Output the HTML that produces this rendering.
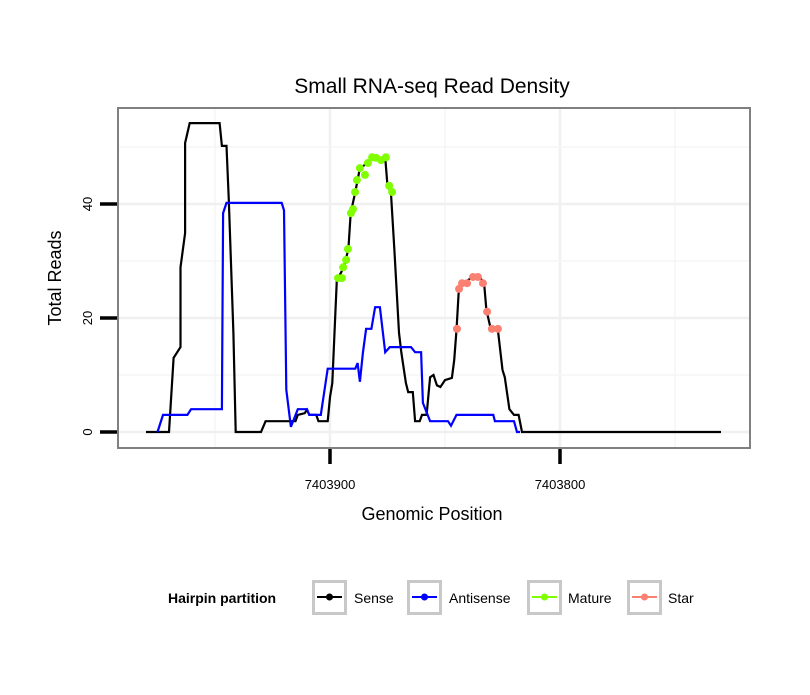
<!DOCTYPE html>
<html><head><meta charset="utf-8"><style>
body{margin:0;background:#fff}
svg text{font-family:"Liberation Sans",sans-serif}
</style></head><body>
<svg id="chart" width="810" height="690" xmlns="http://www.w3.org/2000/svg">
<rect width="810" height="690" fill="#fff"/>
<text x="432" y="93" font-size="21" text-anchor="middle">Small RNA-seq Read Density</text>
<g id="grid"></g>
<g id="series"></g>
<rect x="118" y="108" width="632" height="340" fill="none" stroke="#808080" stroke-width="2"/>
<g id="axes"></g>
<text x="432" y="520" font-size="18" text-anchor="middle">Genomic Position</text>
<text transform="translate(61,278) rotate(-90)" font-size="18" text-anchor="middle">Total Reads</text>
<g id="legend">
<text x="168" y="603" font-size="14" font-weight="bold">Hairpin partition</text>
</g>
</svg>
<script>
const xTicks=[7403900,7403800];
const xTickLabels=["7403900","7403800"];
const yTicks=[0,20,40];
const yTickLabels=["0","20","40"];
const sensePos=[7403980,7403970,7403968,7403965,7403965,7403963,7403963,7403961,7403948,7403947,7403945,7403944,7403942,7403941,7403930,7403928,7403915,7403914,7403911,7403910,7403909,7403906,7403905,7403901,7403900,7403899,7403897,7403896.5,7403894,7403892,7403891,7403889,7403887,7403883.5,7403882,7403878,7403876,7403875,7403873.5,7403872,7403870,7403869,7403867,7403866,7403864,7403863,7403861,7403860,7403858,7403856.5,7403855,7403853.5,7403852,7403850,7403847,7403846,7403845,7403844,7403842,7403838,7403835,7403833,7403832,7403830,7403827,7403825,7403824,7403822,7403820,7403818,7403816.5,7403730];
const senseVals=[0,0,13,14.9,28.9,34.9,50.7,54.2,54.2,50.2,50.2,40.7,17.4,0,0,1.9,1.9,3,3.3,3.9,3,3,1.9,1.9,6.1,8.6,27,27,28.9,32.1,38.4,42.1,46.3,47.2,48.2,47.7,48.2,43.2,42.1,31.9,17.4,14,8.6,7,7,1.9,1.9,3,3,9.6,10,8.2,7.9,9.1,9.5,12.6,17.9,24.9,26.1,27.2,27.2,26.1,21.4,17.9,17.9,10.9,9.6,4,3,3,0,0];
const antiPos=[7403975,7403972.6,7403962,7403960.4,7403947,7403946.5,7403945,7403921,7403920,7403919,7403917,7403914,7403910,7403909,7403904,7403901,7403889,7403888,7403887,7403885.7,7403884.3,7403882,7403880.4,7403878.3,7403876,7403874,7403864.8,7403863,7403860.4,7403859.6,7403856.5,7403848.7,7403847.4,7403845,7403829,7403828.3,7403820,7403818.7,7403817.4];
const antiVals=[0,3,3,4,4,38.4,40.2,40.2,38.9,7.4,0.9,4,4,3,3,11.1,11.1,12.1,8.8,13.9,18.1,18.1,21.9,21.9,14,14.9,14.9,14,14,5.1,1.9,1.9,1.1,3,3,1.9,1.9,0,0];
const maturePos=[7403896.5,7403894.8,7403894.3,7403893,7403892.2,7403890.9,7403890,7403889.1,7403888.3,7403887,7403884.8,7403883.5,7403881.7,7403880,7403877.8,7403875.7,7403874.3,7403873];
const matureVals=[27,27,28.9,30.2,32.1,38.4,39.1,42.1,44.2,46.3,45.1,47.2,48.2,48.1,47.7,48.2,43.2,42.1];
const starPos=[7403844.8,7403843.9,7403842.6,7403840.4,7403837.8,7403835.7,7403833.5,7403831.7,7403829.6,7403827];
const starVals=[18.1,25.1,26.1,26.1,27.2,27.2,26.1,21.1,18.1,18.1];
const legendLabels=["Sense","Antisense","Mature","Star"];
const legendColors=["#000000","#0000ff","#7fff00","#fa8072"];

const NS="http://www.w3.org/2000/svg";
function X(g){return 330+(7403900-g)*2.3;}
function Y(v){return 432-v*5.7;}
function mk(tag,attrs,parent){const e=document.createElementNS(NS,tag);for(const k in attrs)e.setAttribute(k,attrs[k]);parent.appendChild(e);return e;}
const grid=document.getElementById('grid'),ser=document.getElementById('series'),axes=document.getElementById('axes'),leg=document.getElementById('legend');
[7403950,7403850,7403750].forEach(g=>{const l=mk('line',{x1:X(g),x2:X(g),y1:109,y2:447,stroke:'#f5f5f5','stroke-width':1.5},grid);

});
xTicks.forEach(g=>{const l=mk('line',{x1:X(g),x2:X(g),y1:109,y2:447,stroke:'#f0f0f0','stroke-width':2.5},grid);

});
[10,30,50].forEach(v=>{const l=mk('line',{x1:119,x2:749,y1:Y(v),y2:Y(v),stroke:'#f5f5f5','stroke-width':1.5},grid);

});
yTicks.forEach(v=>{const l=mk('line',{x1:119,x2:749,y1:Y(v),y2:Y(v),stroke:'#f0f0f0','stroke-width':2.5},grid);

});
function path(p,v){return p.map((g,i)=>(i?'L':'M')+X(g).toFixed(1)+','+Y(v[i]).toFixed(1)).join(' ');}
const sl=mk('path',{d:path(sensePos,senseVals),fill:'none',stroke:'#000','stroke-width':2.2},ser);


const al=mk('path',{d:path(antiPos,antiVals),fill:'none',stroke:'#0000ff','stroke-width':2.2},ser);


maturePos.forEach((g,i)=>{const c=mk('circle',{cx:X(g),cy:Y(matureVals[i]),r:4,fill:'#7fff00'},ser);

});
starPos.forEach((g,i)=>{const c=mk('circle',{cx:X(g),cy:Y(starVals[i]),r:4,fill:'#fa8072'},ser);

});
xTicks.forEach((g,i)=>{const t=mk('line',{x1:X(g),x2:X(g),y1:449,y2:464,stroke:'#000','stroke-width':3.5},axes);


const tx=mk('text',{x:X(g),y:489,'font-size':13,'text-anchor':'middle'},axes);tx.textContent=xTickLabels[i];

});
yTicks.forEach((v,i)=>{const t=mk('line',{x1:100,x2:117,y1:Y(v),y2:Y(v),stroke:'#000','stroke-width':3.5},axes);


const tx=mk('text',{transform:`translate(92,${Y(v)}) rotate(-90)`,'font-size':13,'text-anchor':'middle'},axes);tx.textContent=yTickLabels[i];

});
const lx=[312,407,527,627],tx=[354,449,568,668];
legendLabels.forEach((s,i)=>{const r=mk('rect',{x:lx[i]+1.5,y:581.5,width:32,height:32,fill:'#fff',stroke:'#c8c8c8','stroke-width':3},leg);


const l=mk('line',{x1:lx[i]+5,x2:lx[i]+30,y1:597,y2:597,stroke:legendColors[i],'stroke-width':2},leg);


const c=mk('circle',{cx:lx[i]+17.5,cy:597,r:3.5,fill:legendColors[i]},leg);


const t=mk('text',{x:tx[i],y:603,'font-size':14},leg);t.textContent=s;

});
</script>
</body></html>
